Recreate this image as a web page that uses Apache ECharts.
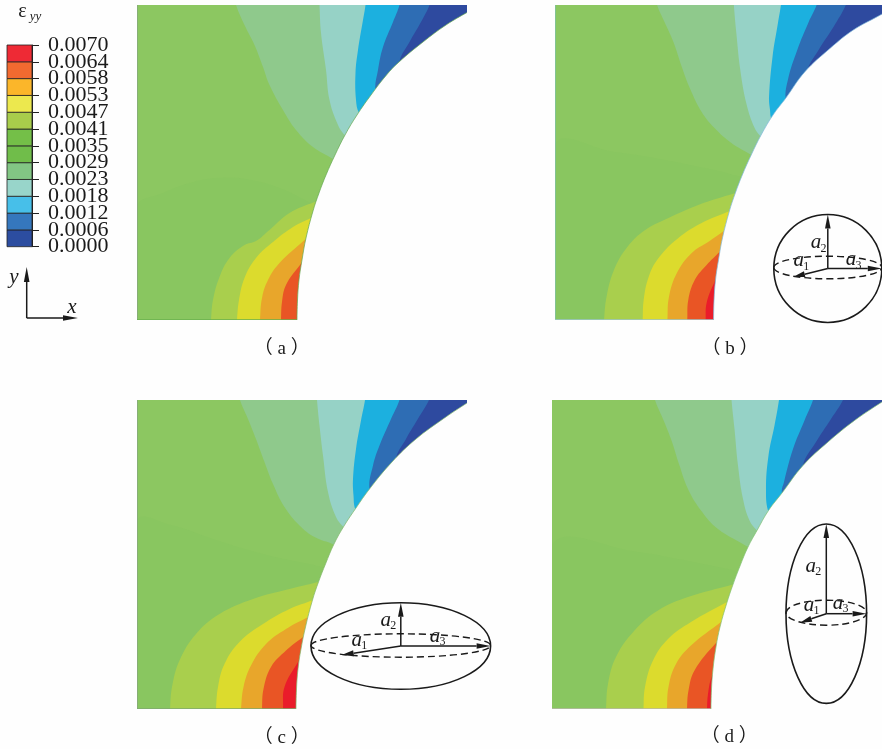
<!DOCTYPE html>
<html>
<head>
<meta charset="utf-8">
<style>
    html, body { margin: 0; padding: 0; background: #fefefe; }
    #chart { width: 882px; height: 749px; }
</style>
<script src="https://cdn.jsdelivr.net/npm/echarts@6/dist/echarts.min.js"></script>
</head>
<body>
<div id="chart"></div>
<script>
// colour bar
const barTicks = ['0.0000', '0.0006', '0.0012', '0.0018', '0.0023', '0.0029', '0.0035', '0.0041', '0.0047', '0.0053', '0.0058', '0.0064', '0.0070'];
const barColors = ['#2c4da0', '#3577bd', '#47bfe9', '#98d5ca', '#82c684', '#70bd4a', '#74bf48', '#a8cd4b', '#ece84e', '#fbb62a', '#f26a30', '#ee2a35'];

// contour fills, same order as the iso lines below
const upperColors = ['#8fc98c', '#96d2c6', '#1cb0df', '#2e6db4', '#2e4a9f'];
const lowerColors = ['#89c660', '#a9cf4d', '#dcdb2d', '#e8a62b', '#e95525', '#ea1c2a'];
const plateColor = '#8cc761';

// iso lines, [x, y] from the lower left corner of each plate
const upperA = [
    [[99, 315], [107.5, 295], [117.5, 275], [126, 253], [132.5, 235], [146, 210], [159, 190], [176, 173], [196, 161], [205, 155]],
    [[182.5, 315], [184, 287], [189, 250], [192.5, 220], [201, 195], [207.5, 185], [215, 178]],
    [[228.5, 315], [226, 300], [221, 270], [218.5, 247], [219, 220], [222, 207], [230, 198]],
    [[262.5, 315], [256, 298], [246, 273], [241, 250], [238.5, 229], [245, 220]],
    [[292.5, 315], [284, 298], [272.5, 278], [262.5, 258], [268, 250]]
];
const lowerA = [
    [[0, 113], [26, 127], [52.5, 137], [79, 142], [109, 141], [142.5, 132], [174, 117], [190, 110]],
    [[74, 0], [76, 20], [82.5, 43], [92.5, 62], [107.5, 75], [119, 79], [132.5, 90], [152.5, 107], [177.5, 118], [190, 122]],
    [[100, 0], [102, 20], [107.5, 42], [119, 62], [136, 78], [156, 93], [174, 102], [185, 108]],
    [[123, 0], [125, 22], [131, 40], [142.5, 57], [167.5, 80], [180, 92]],
    [[144, 0], [145, 18], [149, 35], [163, 55], [175, 68]]
];
const edgeA = [[160, 0], [160.5, 20], [162, 40], [165, 60], [169, 82], [176, 109], [182, 127], [189, 145], [198, 165], [208, 185], [220, 205], [234, 225], [249.5, 245], [262, 258], [286, 278], [309, 295], [330, 307.5]];

const upperB = [
    [[103, 315], [111, 297], [119.5, 278], [128, 253], [136, 232], [148, 208], [161, 192], [178, 177], [198, 165], [207, 158]],
    [[180.5, 315], [183, 287], [187, 250], [193, 217], [201, 193], [208, 183], [217, 175]],
    [[228, 315], [225, 297], [219.5, 263], [216, 223], [217, 210], [218.5, 201], [226, 192]],
    [[264, 315], [256, 298], [244.5, 270], [235, 240], [233, 220], [240, 212]],
    [[293.5, 315], [281, 293], [266, 270], [254.5, 248], [262, 240]]
];
const lowerB = [
    [[0, 175], [60, 168], [95, 163], [161, 150], [200, 142]],
    [[49.5, 0], [52, 23], [59.5, 50], [73, 73], [91, 90], [114.5, 102], [144.5, 115], [182, 127], [195, 131]],
    [[88.5, 0], [89.5, 20], [94.5, 43], [104.5, 62], [124.5, 82], [148, 97], [176, 109], [188, 115]],
    [[113.5, 0], [115, 23], [123, 47], [138, 67], [154.5, 78], [170.5, 89], [182, 97]],
    [[133.5, 0], [134.5, 20], [141, 40], [153, 55], [166, 68], [178, 80]],
    [[152, 0], [153, 17], [161, 38], [172, 58]]
];
const edgeB = [[160, 0], [160.5, 20], [162, 40], [165, 60], [169, 82], [176, 109], [182, 127], [189, 145], [198, 165], [208, 185], [220, 205], [233, 222], [252, 248], [278, 272], [301, 290], [326.5, 304], [335, 309]];

const upperC = [
    [[103, 309], [111, 290], [119, 270], [127.5, 247], [136, 225], [147.5, 202], [162.5, 183.5], [177.5, 172], [196.5, 164.5], [206, 158]],
    [[180, 309], [182.5, 283.5], [186, 253.5], [191, 217], [199, 192], [206.5, 182], [216, 174]],
    [[228, 309], [224, 288.5], [219, 260], [216, 230], [216.5, 213.5], [218.5, 199.5], [226, 190]],
    [[262.5, 309], [254, 290], [242.5, 263.5], [236, 243.5], [232.5, 220], [240, 210]],
    [[292, 309], [279, 287], [269, 270], [259, 250], [266, 242]]
];
const lowerC = [
    [[0, 187.5], [36, 183.5], [76, 170], [126, 155], [172.5, 145], [200, 140]],
    [[33, 0], [35, 22], [42.5, 48.5], [59, 75], [82.5, 95], [116, 110], [152.5, 120], [181, 127], [195, 131]],
    [[79, 0], [81, 22], [87.5, 45], [102.5, 67], [126, 85], [152.5, 100], [176, 109], [188, 115]],
    [[104, 0], [106.5, 22], [114, 43.5], [129, 65], [149, 80], [171, 92], [183, 99]],
    [[125, 0], [126.5, 20], [134, 42], [149, 58.5], [166, 72], [178, 82]],
    [[146, 0], [147.5, 22], [161, 47], [172, 65]]
];
const edgeC = [[159, 0], [159.5, 20], [161, 40], [164, 60], [168.5, 82], [175.5, 109], [181.5, 127], [188.5, 145], [197, 165], [207, 183], [219, 201], [232.5, 220], [255, 247], [279, 270], [306, 290], [330, 306]];

const upperD = [
    [[103, 309], [111, 290], [119, 270], [127.5, 243.5], [136, 220], [149, 198.5], [166, 180], [196, 162], [205, 155]],
    [[179.5, 309], [182.5, 280], [186, 243.5], [191, 210], [197.5, 188.5], [205, 178.5], [215, 170]],
    [[227, 309], [222.5, 283.5], [216.5, 253.5], [214, 220], [216.5, 197], [224, 188]],
    [[261, 309], [252.5, 288.5], [241, 260], [232, 227], [230, 216], [237, 206]],
    [[291, 309], [279, 290], [264, 267], [251, 243.5], [258, 235]]
];
const lowerD = [
    [[0, 163.5], [86, 157], [126, 150], [176, 140], [200, 135]],
    [[54, 0], [56, 25], [64, 52], [82.5, 78.5], [106, 98.5], [136, 112], [181, 124.5], [195, 129]],
    [[91.5, 0], [93, 22], [101, 48.5], [116, 70], [139, 87], [175, 107], [187, 113]],
    [[115, 0], [116.5, 22], [124, 45], [139, 63.5], [169, 87], [182, 97]],
    [[135, 0], [136.5, 18.5], [142.5, 38.5], [164, 66], [177, 77]],
    [[155, 0], [156, 15], [160, 33], [170, 50]]
];
const edgeD = [[159, 0], [159.5, 20], [161, 40], [164, 62], [168, 82], [174.5, 105], [181, 124.5], [188, 143], [196, 162], [205, 178.5], [216.5, 198.5], [230, 216], [251, 243.5], [276, 267], [302.5, 288.5], [330, 307]];

const plateWidth = 330;
const curveSmooth = 0.4;

// one stacked layer list per plate, painted in order
function makeLayers(upper, lower, edge, height) {
    const layers = [];
    layers.push({ pts: [[0, 0], [0, height], [plateWidth, height], [plateWidth, 0]], color: plateColor, smooth: 0 });
    lower.forEach((line, i) => {
        const last = line[line.length - 1];
        layers.push({ pts: line.concat([[plateWidth, last[1]], [plateWidth, -5], [line[0][0], -5]]), color: lowerColors[i], smooth: curveSmooth });
    });
    upper.forEach((line, i) => {
        const last = line[line.length - 1];
        layers.push({ pts: line.concat([[plateWidth + 5, last[1]], [plateWidth + 5, height + 5], [line[0][0], height + 5]]), color: upperColors[i], smooth: curveSmooth });
    });
    // white hole on top, goes past the plate so nothing shows under it
    const end = edge[edge.length - 1];
    layers.push({
        pts: [[edge[0][0], -6]].concat(edge, [[plateWidth + 8, end[1] + 4], [plateWidth + 8, -6]]),
        color: '#fefefe',
        smooth: curveSmooth
    });
    return layers;
}

function plateSeries(gridIndex, upper, lower, edge, height, leftColor, bottomColor, edgeColor) {
    const layers = makeLayers(upper, lower, edge, height);
    return {
        type: 'custom',
        coordinateSystem: 'cartesian2d',
        xAxisIndex: gridIndex,
        yAxisIndex: gridIndex,
        silent: true,
        animation: false,
        clip: true,
        data: layers.map((l, i) => [l.pts[0][0], l.pts[0][1], i]).concat([[0, 0, layers.length]]),
        encode: { x: 0, y: 1 },
        renderItem: function (params, api) {
            const idx = api.value(2);
            if (idx === layers.length) {
                // thin plate outline, left and bottom side then the hole
                return {
                    type: 'group',
                    children: [
                        { type: 'polyline', shape: { points: [[0, height], [0, 0]].map(p => api.coord(p)) }, style: { stroke: leftColor, fill: null, lineWidth: 1.6 } },
                        { type: 'polyline', shape: { points: [[0, 0], edge[0]].map(p => api.coord(p)) }, style: { stroke: bottomColor, fill: null, lineWidth: 1.6 } },
                        { type: 'polyline', shape: { points: edge.map(p => api.coord(p)), smooth: curveSmooth }, style: { stroke: edgeColor, fill: null, lineWidth: 0.7 } }
                    ]
                };
            }
            return {
                type: 'polygon',
                shape: { points: layers[idx].pts.map(p => api.coord(p)), smooth: layers[idx].smooth },
                style: { fill: layers[idx].color }
            };
        }
    };
}

// ---- schematic drawings, plain graphic elements ----
const inkColor = '#1a1a1a';
const graphics = [];

function addText(text, x, y, font) {
    graphics.push({
        type: 'text',
        silent: true,
        z: 100,
        style: { text: text, x: x, y: y, font: font, fill: inkColor, align: 'center', verticalAlign: 'middle', textAlign: 'center', textVerticalAlign: 'middle' }
    });
}

function addArrow(x1, y1, x2, y2, headLen, headHalf) {
    const a = Math.atan2(y2 - y1, x2 - x1);
    const bx = x2 - headLen * Math.cos(a);
    const by = y2 - headLen * Math.sin(a);
    graphics.push({ type: 'line', silent: true, z: 100, shape: { x1: x1, y1: y1, x2: bx, y2: by }, style: { stroke: inkColor, lineWidth: 1.5 } });
    graphics.push({
        type: 'polygon',
        silent: true,
        z: 100,
        shape: { points: [[x2, y2], [bx - headHalf * Math.sin(a), by + headHalf * Math.cos(a)], [bx + headHalf * Math.sin(a), by - headHalf * Math.cos(a)]] },
        style: { fill: inkColor }
    });
}

const labelFont = 'italic 21px "Liberation Serif"';
const subFont = '12px "Liberation Serif"';

function addInset(o) {
    graphics.push({ type: 'ellipse', silent: true, z: 100, shape: { cx: o.cx, cy: o.cy, rx: o.rx, ry: o.ry }, style: { fill: 'none', stroke: inkColor, lineWidth: 1.6 } });
    graphics.push({ type: 'ellipse', silent: true, z: 100, shape: { cx: o.cx, cy: o.dashY, rx: o.rx, ry: o.dashRy }, style: { fill: 'none', stroke: inkColor, lineWidth: 1.4, lineDash: [7, 4] } });
    addArrow(o.cx, o.cy, o.cx, o.cy - o.ry, 14, 2.8);
    addArrow(o.cx, o.cy, o.cx + o.rx, o.cy, 14, 2.8);
    addArrow(o.cx, o.cy, o.a1[0], o.a1[1], 12, 3);
    o.labels.forEach((l, i) => {
        addText('a', l[0], l[1], labelFont);
        addText(String(i + 1), l[0] + 7.5, l[1] + 6, subFont);
    });
}

addInset({ cx: 827.8, cy: 268.5, rx: 54, ry: 54, dashY: 267.5, dashRy: 11.3, a1: [793, 277], labels: [[798.7, 260.5], [816, 242.5], [851, 259.5]] });
addInset({ cx: 400.8, cy: 646, rx: 89.8, ry: 43.3, dashY: 645.5, dashRy: 11.7, a1: [341.7, 655], labels: [[356.7, 640], [385.7, 620], [435, 636]] });
addInset({ cx: 826.3, cy: 613.7, rx: 40.3, ry: 89.7, dashY: 612.7, dashRy: 12.5, a1: [800, 622.7], labels: [[809, 605], [810.7, 566], [838, 603.3]] });

// little x / y axes under the colour bar
addArrow(26.7, 318, 26.7, 267, 15, 2.8);
addArrow(26.7, 318, 78, 318, 15, 2.8);
addText('y', 14, 277, labelFont);
addText('x', 72, 307, labelFont);

// colour bar title
addText('ε', 22.5, 12, '20px "Liberation Serif"');
addText('yy', 35.5, 17, 'italic 13px "Liberation Serif"');

// captions
const captionFont = '19px "Liberation Serif", "Noto Sans CJK SC"';
addText('（ a ）', 281.7, 349, captionFont);
addText('（ b ）', 730, 349, captionFont);
addText('（ c ）', 281.7, 738, captionFont);
addText('（ d ）', 729.3, 737, captionFont);

function plateAxes(i, height) {
    return {
        x: { type: 'value', gridIndex: i, min: 0, max: plateWidth, show: false },
        y: { type: 'value', gridIndex: i, min: 0, max: height, show: false }
    };
}

const heights = [315, 315, 309, 309];
const axes = heights.map((h, i) => plateAxes(i, h));

const option = {
    backgroundColor: '#fefefe',
    animation: false,
    grid: [
        { left: 137, top: 5, width: plateWidth, height: 315 },
        { left: 555, top: 5, width: plateWidth, height: 315 },
        { left: 137, top: 400, width: plateWidth, height: 309 },
        { left: 552, top: 400, width: plateWidth, height: 309 },
        { left: 7, top: 45, width: 25, height: 201.7 }
    ],
    xAxis: axes.map(a => a.x).concat([{ type: 'value', gridIndex: 4, min: 0, max: 1, show: false }]),
    yAxis: axes.map(a => a.y).concat([{
        type: 'value',
        gridIndex: 4,
        position: 'right',
        min: 0,
        max: barTicks.length - 1,
        interval: 1,
        z: 10,
        axisLine: { show: true, onZero: false, lineStyle: { color: '#222', width: 1 } },
        axisTick: { show: true, inside: false, length: 7, lineStyle: { color: '#222', width: 1 } },
        splitLine: { show: false },
        // the axis drops labels this close together, so they are drawn by the series below
        axisLabel: { show: false }
    }]),
    series: [
        plateSeries(0, upperA, lowerA, edgeA, 315, '#86a87c', '#6ab04e', '#63a84f'),
        plateSeries(1, upperB, lowerB, edgeB, 315, '#7fc0a0', '#9cc4c8', '#7fb8d8'),
        plateSeries(2, upperC, lowerC, edgeC, 309, '#86a87c', '#7fa870', '#80b868'),
        plateSeries(3, upperD, lowerD, edgeD, 309, '#8cc761', '#b8b8a8', '#80c070'),
        {
            type: 'custom',
            coordinateSystem: 'cartesian2d',
            xAxisIndex: 4,
            yAxisIndex: 4,
            silent: true,
            animation: false,
            data: barColors.map((c, i) => [0, i]),
            encode: { x: 0, y: 1 },
            renderItem: function (params, api) {
                const i = api.value(1);
                const p0 = api.coord([0, i + 1]);
                const p1 = api.coord([1, i]);
                return {
                    type: 'rect',
                    shape: { x: p0[0], y: p0[1], width: p1[0] - p0[0], height: p1[1] - p0[1] },
                    style: { fill: barColors[i], stroke: '#222', lineWidth: 0.8 }
                };
            }
        },
        {
            type: 'custom',
            coordinateSystem: 'cartesian2d',
            xAxisIndex: 4,
            yAxisIndex: 4,
            silent: true,
            animation: false,
            data: barTicks.map((t, i) => [1, i]),
            encode: { x: 0, y: 1 },
            renderItem: function (params, api) {
                const i = api.value(1);
                const p = api.coord([1, i]);
                return {
                    type: 'text',
                    style: {
                        text: barTicks[i],
                        x: p[0] + 16,
                        y: p[1],
                        font: '22px "Liberation Serif"',
                        fill: '#1a1a1a',
                        align: 'left',
                        verticalAlign: 'middle',
                        textAlign: 'left',
                        textVerticalAlign: 'middle'
                    }
                };
            }
        }
    ],
    graphic: { elements: graphics }
};

const myChart = echarts.init(document.getElementById('chart'));
myChart.setOption(option);
</script>
</body>
</html>
